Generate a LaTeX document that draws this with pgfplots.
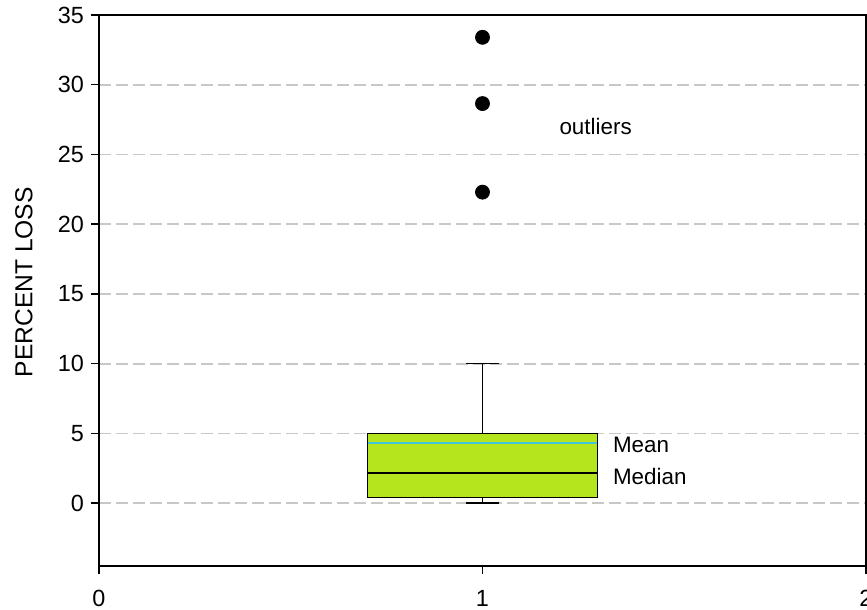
\documentclass[border=0pt]{standalone}
\usepackage{fontspec}
\setmainfont{Liberation Sans}
\usepackage{pgfplots}
\pgfplotsset{compat=1.18}
\usepgfplotslibrary{statistics}
\definecolor{boxfill}{RGB}{181,230,29}
\definecolor{meancol}{RGB}{64,196,214}
\definecolor{gridgray}{RGB}{200,200,200}
\begin{document}
\begin{tikzpicture}
\useasboundingbox (-49.5pt,-22pt) rectangle (384pt,283pt);
\begin{axis}[
  at={(0,0)}, anchor=south west,
  scale only axis, width=383.5pt, height=275.5pt,
  xmin=0, xmax=2, ymin=-4.5, ymax=35,
  xtick={0,1,2}, ytick={0,5,...,35},
  tick align=outside, xtick pos=left, ytick pos=left,
  major tick length=4pt,
  axis line style={line width=0.75pt},
  tick style={black, line width=0.75pt},
  ymajorgrids,
  grid style={gridgray, line width=0.9pt, dash pattern=on 6pt off 2.5pt},
  tick label style={font=\fontsize{11.7}{13}\selectfont},
  /pgf/number format/assume math mode=true,
  xticklabel style={yshift=-4.5pt},
  ylabel={PERCENT LOSS},
  every axis y label/.style={at={(axis description cs:-0.0978,0.515)}, rotate=90, anchor=center, font=\fontsize{12.3}{14}\selectfont},
  clip=false,
  boxplot/draw direction=y,
  boxplot/every whisker/.style={line width=0.75pt},
]
\addplot[boxplot prepared={draw position=1, lower whisker=0, lower quartile=0.4,
    median=2.15, upper quartile=5, upper whisker=10, box extend=0.6, whisker extend=0.085},
    draw=black, fill=boxfill, line width=0.75pt, solid] coordinates {};
\addplot[meancol, line width=1pt] coordinates {(0.702,4.35) (1.298,4.35)};
\addplot[only marks, mark=*, mark size=3.5pt, black] coordinates {(1,33.4) (1,28.65) (1,22.3)};
\node[anchor=west, font=\fontsize{11.2}{13}\selectfont] at (axis cs:1.322,4.15) {Mean};
\node[anchor=west, font=\fontsize{11.2}{13}\selectfont] at (axis cs:1.322,1.9) {Median};
\node[anchor=center, font=\fontsize{11.2}{13}\selectfont] at (axis cs:1.295,27.0) {outliers};
\end{axis}
\end{tikzpicture}
\end{document}
